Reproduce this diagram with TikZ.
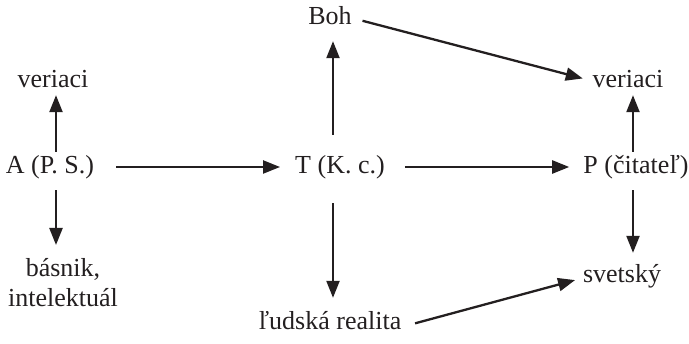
\documentclass[tikz,border=0pt]{standalone}
\usepackage{fontspec}
\setmainfont{Liberation Serif}
\usepackage{tikz}
\usetikzlibrary{arrows.meta, positioning}
\definecolor{cInk}{HTML}{231F20}
\tikzset{
  term/.style={font=\fontsize{26}{30}\selectfont, text=cInk, inner sep=0pt,
    anchor=base, text height=19pt, text depth=5pt},
  pair/.style={font=\fontsize{26}{30}\selectfont, text=cInk, inner sep=0pt,
    align=center, anchor=north},
  flow/.style={-{Triangle[length=17pt, width=13pt]}, line width=2.3pt, draw=cInk},
}

\begin{document}
\begin{tikzpicture}[x=1pt, y=-1pt]
\useasboundingbox (0,0) rectangle (689,344);

\node[term] (boh) at (330,25) {Boh};
\node[term] (verL) at (53,88) {veriaci};
\node[term] (verR) at (628,88) {veriaci};
\node[term] (auth) at (50,174) {A (P. S.)};
\node[term] (text) at (340,174) {T (K. c.)};
\node[term] (reader) at (636,174) {P (čitateľ)};
\node[pair] (poet) at (63,258) {básnik,\\ intelektuál};
\node[term] (world) at (622,283) {svetský};
\node[term] (real) at (330,330) {ľudská realita};

% main line
\foreach \a/\b/\s/\e in {auth.east/text.west/22/15, text.east/reader.west/20/14}
  \draw[flow, shorten <=\s pt, shorten >=\e pt] (\a) -- (\b);

% up and down from each station
\draw[flow, shorten <=3pt, shorten >=2pt] ([xshift=6pt]auth.north) -- ([xshift=6pt]auth.north |- verL.south);
\draw[flow, shorten <=11pt, shorten >=13pt] ([xshift=6pt]auth.south) -- ([xshift=6pt]auth.south |- poet.north);
\draw[flow, shorten <=20pt, shorten >=11pt] ([xshift=-7pt]text.north) -- ([xshift=-7pt]text.north |- boh.south);
\draw[flow, shorten <=24pt, shorten >=13pt] ([xshift=-7pt]text.south) -- ([xshift=-7pt]text.south |- real.north);
\draw[flow, shorten <=3pt, shorten >=2pt] ([xshift=-3pt]reader.north) -- ([xshift=-3pt]reader.north |- verR.south);
\draw[flow, shorten <=11pt, shorten >=11pt] ([xshift=-3pt]reader.south) -- ([xshift=-3pt]reader.south |- world.north);

% slanted ones
\draw[flow, shorten <=11pt, shorten >=10pt] (boh.east) -- (verR.west);
\draw[flow, shorten <=14pt, shorten >=8pt] ([yshift=-4pt]real.east) -- ([yshift=-2pt]world.west);
\end{tikzpicture}
\end{document}
